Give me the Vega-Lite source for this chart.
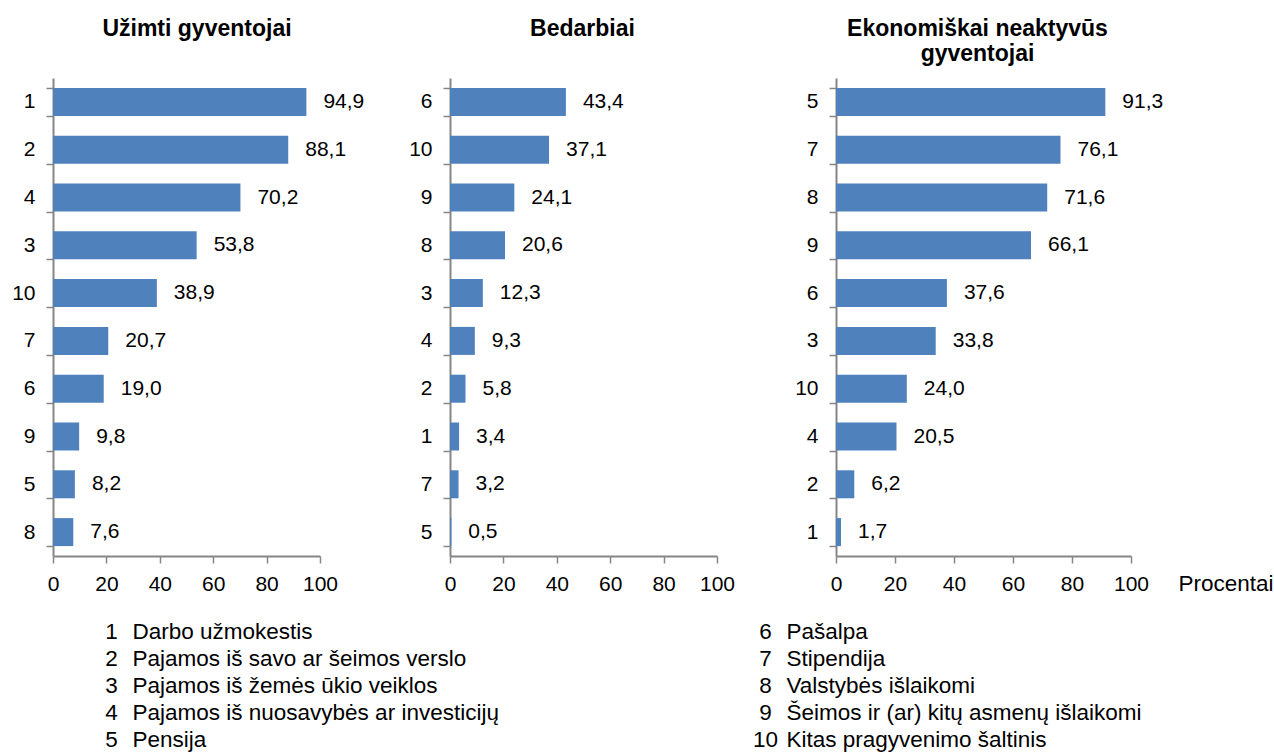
{
  "$schema": "https://vega.github.io/schema/vega-lite/v6.json",
  "autosize": {"type": "pad"},
  "padding": {"left": 11, "top": 17, "right": 0, "bottom": 0},
  "background": "white",
  "config": {
    "locale": {"number": {"decimal": ",", "thousands": " ", "grouping": [3], "currency": ["", " €"]}},
    "view": {"stroke": null},
    "font": "Liberation Sans",
    "text": {"font": "Liberation Sans", "fontSize": 21, "color": "black"},
    "title": {"font": "Liberation Sans", "fontSize": 23, "fontWeight": "bold", "color": "black", "frame": "group", "anchor": "middle", "baseline": "alphabetic", "offset": 26.5, "lineHeight": 25.5},
    "axis": {"domainColor": "#868686", "tickColor": "#868686", "domainWidth": 2, "tickWidth": 1.5, "labelFont": "Liberation Sans", "labelFontSize": 21, "labelColor": "black", "grid": false, "tickSize": 7, "labelFlush": false}
  },
  "datasets": {
    "bars": [
      {"grupe": "U", "saltinis": "1", "procentai": 94.9},
      {"grupe": "U", "saltinis": "2", "procentai": 88.1},
      {"grupe": "U", "saltinis": "4", "procentai": 70.2},
      {"grupe": "U", "saltinis": "3", "procentai": 53.8},
      {"grupe": "U", "saltinis": "10", "procentai": 38.9},
      {"grupe": "U", "saltinis": "7", "procentai": 20.7},
      {"grupe": "U", "saltinis": "6", "procentai": 19.0},
      {"grupe": "U", "saltinis": "9", "procentai": 9.8},
      {"grupe": "U", "saltinis": "5", "procentai": 8.2},
      {"grupe": "U", "saltinis": "8", "procentai": 7.6},
      {"grupe": "B", "saltinis": "6", "procentai": 43.4},
      {"grupe": "B", "saltinis": "10", "procentai": 37.1},
      {"grupe": "B", "saltinis": "9", "procentai": 24.1},
      {"grupe": "B", "saltinis": "8", "procentai": 20.6},
      {"grupe": "B", "saltinis": "3", "procentai": 12.3},
      {"grupe": "B", "saltinis": "4", "procentai": 9.3},
      {"grupe": "B", "saltinis": "2", "procentai": 5.8},
      {"grupe": "B", "saltinis": "1", "procentai": 3.4},
      {"grupe": "B", "saltinis": "7", "procentai": 3.2},
      {"grupe": "B", "saltinis": "5", "procentai": 0.5},
      {"grupe": "E", "saltinis": "5", "procentai": 91.3},
      {"grupe": "E", "saltinis": "7", "procentai": 76.1},
      {"grupe": "E", "saltinis": "8", "procentai": 71.6},
      {"grupe": "E", "saltinis": "9", "procentai": 66.1},
      {"grupe": "E", "saltinis": "6", "procentai": 37.6},
      {"grupe": "E", "saltinis": "3", "procentai": 33.8},
      {"grupe": "E", "saltinis": "10", "procentai": 24.0},
      {"grupe": "E", "saltinis": "4", "procentai": 20.5},
      {"grupe": "E", "saltinis": "2", "procentai": 6.2},
      {"grupe": "E", "saltinis": "1", "procentai": 1.7}
    ],
    "legenda": [
      {"nr": "1", "tekstas": "Darbo užmokestis", "stulpelis": 0, "eilute": 1},
      {"nr": "2", "tekstas": "Pajamos iš savo ar šeimos verslo", "stulpelis": 0, "eilute": 2},
      {"nr": "3", "tekstas": "Pajamos iš žemės ūkio veiklos", "stulpelis": 0, "eilute": 3},
      {"nr": "4", "tekstas": "Pajamos iš nuosavybės ar investicijų", "stulpelis": 0, "eilute": 4},
      {"nr": "5", "tekstas": "Pensija", "stulpelis": 0, "eilute": 5},
      {"nr": "6", "tekstas": "Pašalpa", "stulpelis": 1, "eilute": 1},
      {"nr": "7", "tekstas": "Stipendija", "stulpelis": 1, "eilute": 2},
      {"nr": "8", "tekstas": "Valstybės išlaikomi", "stulpelis": 1, "eilute": 3},
      {"nr": "9", "tekstas": "Šeimos ir (ar) kitų asmenų išlaikomi", "stulpelis": 1, "eilute": 4},
      {"nr": "10", "tekstas": "Kitas pragyvenimo šaltinis", "stulpelis": 1, "eilute": 5}
    ]
  },
  "bounds": "flush",
  "spacing": 540.5,
  "vconcat": [
    {
      "bounds": "flush",
      "spacing": 119,
      "hconcat": [
        {
          "width": 278, "height": 478,
          "title": {"text": "Užimti gyventojai", "dx": 5},
          "data": {"name": "bars"},
          "transform": [{"filter": "datum.grupe === 'U'"}],
          "encoding": {
            "y": {"field": "saltinis", "type": "nominal", "sort": {"field": "procentai", "order": "descending"},
                  "scale": {"paddingInner": 0.414, "paddingOuter": 0.207},
                  "axis": {"title": null, "tickBand": "extent", "labelPadding": 11}},
            "x": {"field": "procentai", "type": "quantitative",
                  "scale": {"domain": [0, 100], "range": [0, 267], "nice": false},
                  "axis": {"title": null, "values": [0, 20, 40, 60, 80, 100], "labelPadding": 10}}
          },
          "layer": [
            {"mark": {"type": "bar", "color": "#4F81BD"}},
            {"mark": {"type": "text", "align": "left", "baseline": "middle", "dx": 17}, "encoding": {"text": {"field": "procentai", "format": ".1f"}}}
          ]
        },
        {
          "width": 267, "height": 478,
          "title": {"text": "Bedarbiai", "dx": -1},
          "data": {"name": "bars"},
          "transform": [{"filter": "datum.grupe === 'B'"}],
          "encoding": {
            "y": {"field": "saltinis", "type": "nominal", "sort": {"field": "procentai", "order": "descending"},
                  "scale": {"paddingInner": 0.414, "paddingOuter": 0.207},
                  "axis": {"title": null, "tickBand": "extent", "labelPadding": 11}},
            "x": {"field": "procentai", "type": "quantitative",
                  "scale": {"domain": [0, 100], "nice": false},
                  "axis": {"title": null, "values": [0, 20, 40, 60, 80, 100], "labelPadding": 10}}
          },
          "layer": [
            {"mark": {"type": "bar", "color": "#4F81BD"}},
            {"mark": {"type": "text", "align": "left", "baseline": "middle", "dx": 17}, "encoding": {"text": {"field": "procentai", "format": ".1f"}}}
          ]
        },
        {
          "width": 295, "height": 478,
          "title": {"text": ["Ekonomiškai neaktyvūs", "gyventojai"], "dx": -6, "offset": 1},
          "data": {"name": "bars"},
          "transform": [{"filter": "datum.grupe === 'E'"}],
          "encoding": {
            "y": {"field": "saltinis", "type": "nominal", "sort": {"field": "procentai", "order": "descending"},
                  "scale": {"paddingInner": 0.414, "paddingOuter": 0.207},
                  "axis": {"title": null, "tickBand": "extent", "labelPadding": 11}},
            "x": {"field": "procentai", "type": "quantitative",
                  "scale": {"domain": [0, 100], "nice": false},
                  "axis": {"title": "Procentai", "values": [0, 20, 40, 60, 80, 100], "labelPadding": 10,
                           "titleX": 342, "titleY": 27, "titleAlign": "left", "titleBaseline": "middle",
                           "titleFont": "Liberation Sans", "titleFontSize": 22.5, "titleFontWeight": "normal", "titleColor": "black"}}
          },
          "layer": [
            {"mark": {"type": "bar", "color": "#4F81BD"}},
            {"mark": {"type": "text", "align": "left", "baseline": "middle", "dx": 17}, "encoding": {"text": {"field": "procentai", "format": ".1f"}}}
          ]
        }
      ]
    },
    {
      "width": 1000, "height": 135,
      "data": {"name": "legenda"},
      "encoding": {
        "y": {"field": "eilute", "type": "ordinal", "axis": null, "scale": {"paddingInner": 0, "paddingOuter": 0}},
        "x": {"field": "stulpelis", "type": "quantitative", "axis": null, "scale": {"domain": [0, 1], "range": [58.5, 712.5]}}
      },
      "layer": [
        {"mark": {"type": "text", "align": "center", "baseline": "middle", "fontSize": 22.5}, "encoding": {"text": {"field": "nr"}}},
        {"mark": {"type": "text", "align": "left", "baseline": "middle", "dx": 21, "fontSize": 22.5}, "encoding": {"text": {"field": "tekstas"}}}
      ]
    }
  ]
}
